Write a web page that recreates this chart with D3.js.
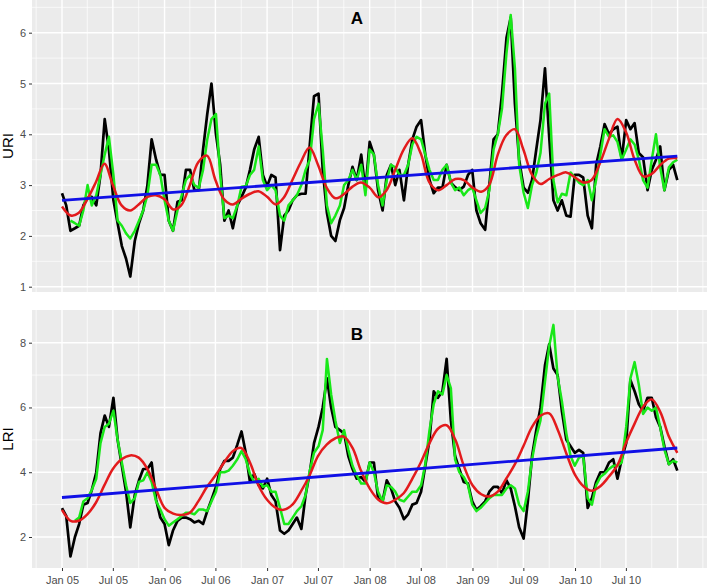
<!DOCTYPE html>
<html>
<head>
<meta charset="utf-8">
<script src="https://cdn.jsdelivr.net/npm/d3@7"></script>
<style>
  body { margin: 0; background: #fff; }
  text { font-family: "Liberation Sans", Arial, sans-serif; }
</style>
</head>
<body>
<svg id="chart" width="707" height="586"></svg>
<script>
// half-monthly observations, Jan 2005 .. Dec 2010 (145 points)
const uriObs = [
  2.84,2.6,2.1,2.15,2.2,2.6,2.75,2.77,2.6,3.2,4.3,3.7, 2.7,2.25,1.8,1.55,1.2,1.9,2.25,2.5,3.0,3.9,3.5,3.2,
  3.2,2.3,2.1,2.67,2.7,3.3,3.3,2.9,2.9,3.7,4.4,5.0, 4.0,3.4,2.3,2.5,2.15,2.6,2.77,2.95,3.3,3.7,3.95,3.2,
  2.98,3.2,3.15,1.72,2.4,2.5,2.7,2.8,2.83,2.83,3.8,4.75, 4.8,3.3,2.45,2.0,1.9,2.31,2.55,3.0,3.36,3.1,3.6,2.9,
  3.85,3.6,2.9,2.5,3.2,3.4,3.0,3.3,2.7,3.4,3.9,4.15, 4.28,3.6,3.1,2.84,2.95,2.95,3.4,3.05,2.96,2.9,2.97,3.2,
  3.3,2.5,2.25,2.12,3.0,3.9,4.0,4.8,5.9,6.3,4.6,3.5, 2.95,2.85,3.1,3.7,4.28,5.3,3.95,2.7,2.5,2.7,2.4,2.38,
  3.2,3.2,3.15,2.4,2.15,3.4,3.76,4.2,4.0,4.1,4.15,3.5, 4.28,4.1,4.22,3.63,3.55,2.9,3.3,3.5,3.76,2.9,3.3,3.4,
  3.1
];
const uriFit = [
  null,null,2.3,2.25,2.2,2.5,3.0,2.6,2.8,3.2,3.6,3.95, 3.2,2.3,2.2,2.05,1.95,2.1,2.3,2.5,2.8,3.4,3.4,3.2,
  2.7,2.3,2.1,2.5,2.8,3.1,3.2,3.0,2.95,3.3,3.9,4.3, 4.4,3.2,2.35,2.4,2.35,2.6,2.97,2.98,3.2,3.3,3.76,3.1,
  2.9,3.0,2.9,2.4,2.3,2.6,2.7,2.8,3.0,3.3,3.5,4.3, 4.6,3.7,2.6,2.25,2.4,2.6,3.0,3.1,3.3,3.1,3.4,2.8,
  3.7,3.6,3.0,2.6,3.1,3.4,3.35,3.2,3.2,3.4,3.8,3.95, 3.9,3.6,3.3,3.1,3.1,3.3,3.4,3.05,2.9,2.95,2.8,2.9,
  2.95,2.7,2.45,2.55,2.9,3.7,4.0,4.5,5.6,6.35,5.3,3.4, 2.85,2.55,3.0,3.24,3.63,4.6,4.8,3.1,2.66,2.83,2.8,3.25,
  3.15,3.05,3.0,3.1,2.7,3.1,3.6,4.1,3.95,3.98,3.85,3.5, 3.7,3.9,3.8,3.5,3.1,2.95,3.5,4.0,3.35,2.9,3.35,3.45,
  3.5
];
const lriObs = [
  2.89,2.65,1.4,2.0,2.4,3.0,3.05,3.45,4.0,5.2,5.75,5.4, 6.3,5.0,4.2,3.4,2.3,3.3,3.75,4.1,4.1,4.3,3.15,2.6,
  2.4,1.75,2.2,2.5,2.6,2.6,2.55,2.45,2.5,2.4,2.8,3.15, 3.55,4.1,4.35,4.35,4.45,4.85,5.26,4.6,3.7,3.95,3.6,3.5,
  3.8,3.3,3.1,2.2,2.1,2.2,2.4,2.6,2.25,3.3,4.0,4.9, 5.4,6.0,6.9,6.0,5.4,5.3,5.2,4.5,4.1,3.8,3.85,3.7,
  4.3,4.3,3.2,3.1,3.75,3.5,3.1,2.9,2.55,2.7,3.0,3.05, 3.4,4.2,5.0,6.5,6.3,6.5,7.5,5.6,4.5,4.1,3.7,3.65,
  3.1,2.84,2.95,3.1,3.4,3.55,3.55,3.35,3.75,3.5,2.95,2.3, 1.95,3.1,4.5,5.3,6.0,7.3,7.95,7.2,7.0,5.9,5.0,4.8,
  4.6,4.69,4.6,2.9,3.2,3.7,4.0,4.0,4.3,4.4,3.8,4.4, 4.9,6.85,6.5,6.1,5.9,6.3,6.3,5.7,5.4,4.8,4.25,4.4,
  4.05
];
const lriFit = [
  null,null,null,2.5,2.6,3.1,3.2,3.45,3.8,4.9,5.4,5.5, 5.9,5.0,4.3,3.6,3.05,3.2,3.7,3.75,4.0,3.7,3.1,2.85,
  2.55,2.35,2.45,2.55,2.65,2.75,2.75,2.7,2.85,2.85,2.8,3.1, 3.4,4.0,4.0,4.05,4.2,4.4,4.65,4.4,3.95,3.7,3.8,3.55,
  3.6,3.4,3.4,2.9,2.4,2.4,2.6,2.8,2.95,3.3,4.05,4.6, 4.8,5.3,7.5,6.4,5.6,4.9,5.3,4.7,4.2,3.9,3.65,3.65,
  4.3,4.0,3.4,3.1,3.6,3.55,3.4,3.15,3.1,3.25,3.4,3.4, 3.6,4.25,5.3,6.1,6.5,6.4,7.0,6.6,4.4,4.0,3.85,3.6,
  3.0,2.8,2.9,3.05,3.2,3.3,3.3,3.3,3.5,3.6,3.5,3.0, 2.8,3.4,4.4,5.1,5.6,6.8,7.9,8.55,6.95,6.2,5.2,4.5,
  4.2,4.45,4.5,3.2,3.0,3.6,3.85,3.95,4.1,4.2,4.2,4.3, 5.4,6.9,7.4,6.7,5.8,6.0,5.9,6.0,5.4,4.7,4.25,4.35,
  4.3
];

// monthly seasonal model curves (73 points)
const uriSeason = [
  2.58,2.4,2.45,2.72,3.05,3.42,3.0,2.6,2.5,2.62,2.77,2.8,2.72,2.52,2.6,3.0,3.45,3.58,
  3.1,2.72,2.62,2.73,2.83,2.88,2.77,2.62,2.75,3.1,3.45,3.74,3.4,2.95,2.74,2.82,2.97,3.05,
  2.95,2.76,2.9,3.3,3.7,3.92,3.62,3.05,2.9,3.0,3.12,3.1,2.95,2.87,3.0,3.6,3.98,4.1,
  3.7,3.2,3.02,3.12,3.2,3.25,3.15,3.05,3.1,3.45,3.9,4.3,4.05,3.5,3.17,3.22,3.4,3.52,3.53
];
const lriSeason = [
  2.84,2.5,2.5,2.7,3.05,3.6,4.1,4.4,4.52,4.45,4.1,3.5,2.9,2.72,2.68,2.75,3.1,3.55,
  3.9,4.3,4.65,4.75,4.3,3.6,3.15,2.9,2.84,3.0,3.4,3.9,4.5,4.85,5.05,5.1,4.75,4.05,
  3.5,3.15,3.04,3.15,3.35,3.8,4.3,4.9,5.35,5.45,5.0,4.2,3.6,3.32,3.25,3.4,3.8,4.25,
  4.8,5.4,5.75,5.82,5.3,4.58,3.92,3.56,3.43,3.57,3.86,4.22,4.9,5.5,6.03,6.25,5.85,5.1,4.6
];

// linear trend, start and end
const uriTrend = [2.7, 3.57];
const lriTrend = [3.22, 4.75];

const start = new Date(2005, 0, 1);
const end = new Date(2010, 11, 31);
const halfMonths = d3.range(145).map(i => d3.timeDay.offset(start, Math.round(i * 2190 / 144)));
const months = d3.range(73).map(i => i < 72 ? d3.timeMonth.offset(start, i) : end);
const trendDates = [start, end];

const svg = d3.select("#chart");

const x = d3.scaleTime()
  .domain([start, new Date(2011, 0, 1)])
  .range([62, 677.6]);
const left = 32, right = 707;

const majorX = d3.timeMonth.every(6).range(new Date(2005, 0, 1), new Date(2011, 0, 2));
const minorX = d3.timeMonth.every(3).range(new Date(2004, 9, 1), new Date(2011, 4, 1))
  .filter(d => d.getMonth() === 3 || d.getMonth() === 9);

const panels = [
  {
    top: 0, bottom: 292, title: "A", titleY: 24, label: "URI",
    y: d3.scaleLinear().domain([1, 6]).range([286.7, 32.7]),
    ticks: [1, 2, 3, 4, 5, 6], minor: [1.5, 2.5, 3.5, 4.5, 5.5, 6.5],
    obs: uriObs, fit: uriFit, season: uriSeason, trend: uriTrend, xLabels: false
  },
  {
    top: 310, bottom: 568, title: "B", titleY: 340, label: "LRI",
    y: d3.scaleLinear().domain([2, 8]).range([537, 342.7]),
    ticks: [2, 4, 6, 8], minor: [3, 5, 7],
    obs: lriObs, fit: lriFit, season: lriSeason, trend: lriTrend, xLabels: true
  }
];

panels.forEach(p => {
  const g = svg.append("g");
  const y = p.y;

  g.append("rect")
    .attr("x", left).attr("y", p.top)
    .attr("width", right - left).attr("height", p.bottom - p.top)
    .attr("fill", "#ebebeb");

  // grid
  g.selectAll(".hmin").data(p.minor).join("line")
    .attr("x1", left).attr("x2", right)
    .attr("y1", d => y(d)).attr("y2", d => y(d))
    .attr("stroke", "#fff").attr("stroke-width", 0.7);
  g.selectAll(".vmin").data(minorX).join("line")
    .attr("x1", d => x(d)).attr("x2", d => x(d))
    .attr("y1", p.top).attr("y2", p.bottom)
    .attr("stroke", "#fff").attr("stroke-width", 0.7);
  g.selectAll(".hmaj").data(p.ticks).join("line")
    .attr("x1", left).attr("x2", right)
    .attr("y1", d => y(d)).attr("y2", d => y(d))
    .attr("stroke", "#fff").attr("stroke-width", 1.4);
  g.selectAll(".vmaj").data(majorX).join("line")
    .attr("x1", d => x(d)).attr("x2", d => x(d))
    .attr("y1", p.top).attr("y2", p.bottom)
    .attr("stroke", "#fff").attr("stroke-width", 1.4);

  // y axis
  const ya = g.append("g")
    .attr("transform", `translate(${left},0)`)
    .call(d3.axisLeft(y).tickValues(p.ticks).tickSize(3).tickPadding(3).tickFormat(d3.format("d")));
  ya.select(".domain").remove();
  ya.selectAll("line").attr("stroke", "#333");
  ya.selectAll("text").attr("fill", "#4d4d4d").style("font-size", "11px")
    .style("font-family", "'Liberation Sans', Arial, sans-serif");

  if (p.xLabels) {
    const xa = g.append("g")
      .attr("transform", `translate(0,${p.bottom})`)
      .call(d3.axisBottom(x).tickValues(majorX.slice(0, -1)).tickSize(3).tickPadding(5)
        .tickFormat(d3.timeFormat("%b %y")));
    xa.select(".domain").remove();
    xa.selectAll("line").attr("stroke", "#333");
    xa.selectAll("text").attr("fill", "#4d4d4d").style("font-size", "11px")
      .style("font-family", "'Liberation Sans', Arial, sans-serif");
  }

  // series
  const line = d3.line()
    .defined(d => d[1] != null)
    .x(d => x(d[0])).y(d => y(d[1]));
  const smooth = d3.line().curve(d3.curveCatmullRom.alpha(0.5))
    .x(d => x(d[0])).y(d => y(d[1]));

  g.append("path")
    .datum(halfMonths.map((d, i) => [d, p.obs[i]]))
    .attr("d", line)
    .attr("fill", "none").attr("stroke", "#000").attr("stroke-width", 2.7)
    .attr("stroke-linejoin", "round");
  g.append("path")
    .datum(halfMonths.map((d, i) => [d, p.fit[i]]))
    .attr("d", line)
    .attr("fill", "none").attr("stroke", "#18e818").attr("stroke-width", 2.5)
    .attr("stroke-linejoin", "round");
  g.append("path")
    .datum(months.map((d, i) => [d, p.season[i]]))
    .attr("d", smooth)
    .attr("fill", "none").attr("stroke", "#e31a1c").attr("stroke-width", 2.5);
  g.append("path")
    .datum(trendDates.map((d, i) => [d, p.trend[i]]))
    .attr("d", line)
    .attr("fill", "none").attr("stroke", "#1010e6").attr("stroke-width", 2.9);

  // panel title and axis label
  g.append("text")
    .attr("x", 357).attr("y", p.titleY)
    .attr("text-anchor", "middle")
    .style("font-size", "17px").style("font-weight", "bold")
    .text(p.title);
  g.append("text")
    .attr("transform", `translate(13,${(p.top + p.bottom) / 2}) rotate(-90)`)
    .attr("text-anchor", "middle")
    .style("font-size", "15px")
    .text(p.label);
});
</script>
</body>
</html>
